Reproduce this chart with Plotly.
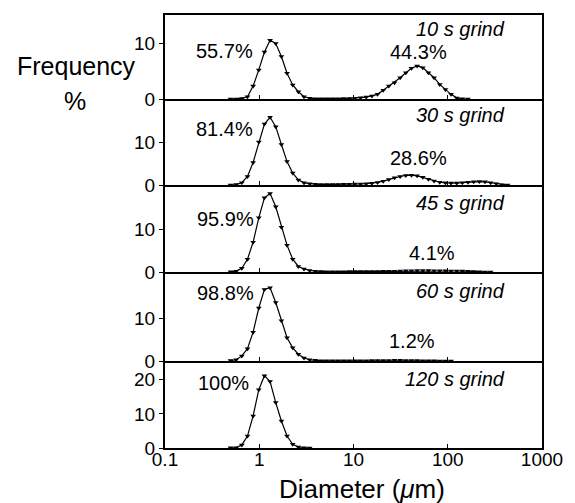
import plotly.graph_objects as go

# ---------------- data ----------------
# particle diameter bins (um), log-spaced
DIAMETER_UM = [0.4315, 0.4955, 0.5689, 0.6531, 0.7499, 0.8610, 0.9886, 1.135, 1.303, 1.496,
               1.718, 1.972, 2.265, 2.600, 2.985, 3.428, 3.936, 4.519, 5.188, 5.957,
               6.839, 7.852, 9.016, 10.35, 11.89, 13.65, 15.67, 17.99, 20.65, 23.71,
               27.23, 31.26, 35.89, 41.21, 47.32, 54.33, 62.37, 71.61, 82.22, 94.41,
               108.4, 124.5, 142.9, 164.1, 188.4, 216.3, 248.3, 285.1, 327.3, 375.8, 431.5]

FREQ_10S = [None, 0, 0.02, 0.1, 0.4, 2.3, 5.2, 8.4, 10.5, 9.9,
            7.6, 4.6, 2.5, 1.3, 0.4, 0.15, 0.05, 0.03, 0.03, 0.04,
            0.05, 0.07, 0.1, 0.15, 0.22, 0.35, 0.55, 0.83, 1.55, 2.3,
            2.9, 3.8, 4.7, 5.5, 5.9, 5.6, 4.7, 3.8, 2.6, 1.7,
            0.83, 0.2, 0.03, 0, None, None, None, None, None, None, None]

FREQ_30S = [None, 0, 0.1, 0.55, 2.0, 5.3, 10.1, 14.3, 15.9, 13.7,
            9.5, 5.5, 2.8, 1.2, 0.5, 0.3, 0.2, 0.1, 0.1, 0.12,
            0.14, 0.15, 0.18, 0.22, 0.25, 0.3, 0.4, 0.6, 0.9, 1.3,
            1.7, 2.0, 2.25, 2.3, 2.15, 1.8, 1.35, 0.95, 0.65, 0.5,
            0.45, 0.45, 0.55, 0.65, 0.75, 0.8, 0.75, 0.55, 0.3, 0.08, 0]

FREQ_45S = [None, 0.05, 0.2, 0.86, 3.0, 7.0, 12.7, 17.4, 18.4, 15.3,
            10.5, 6.3, 3.0, 1.3, 0.7, 0.35, 0.2, 0.1, 0.06, 0.06,
            0.07, 0.08, 0.09, 0.1, 0.1, 0.11, 0.12, 0.13, 0.15, 0.17,
            0.2, 0.24, 0.28, 0.32, 0.34, 0.35, 0.34, 0.32, 0.3, 0.28,
            0.26, 0.24, 0.22, 0.18, 0.12, 0.05, 0.02, 0, None, None, None]

FREQ_60S = [None, 0.1, 0.3, 1.2, 2.9, 6.8, 12.5, 16.9, 17.3, 13.8,
            9.5, 5.5, 3.1, 1.6, 0.7, 0.3, 0.15, 0.05, 0.04, 0.04,
            0.05, 0.05, 0.06, 0.06, 0.07, 0.08, 0.09, 0.1, 0.12, 0.14,
            0.15, 0.15, 0.14, 0.12, 0.1, 0.07, 0.05, 0.03, 0.02, 0.02,
            0, None, None, None, None, None, None, None, None, None, None]

FREQ_120S = [None, 0.05, 0.1, 0.9, 3.5, 9.4, 17.1, 21.2, 19.5, 13.3,
             7.9, 3.5, 1.1, 0.3, 0.1, 0, None, None, None, None,
             None, None, None, None, None, None, None, None, None, None,
             None, None, None, None, None, None, None, None, None, None,
             None, None, None, None, None, None, None, None, None, None, None]

SERIES = [FREQ_10S, FREQ_30S, FREQ_45S, FREQ_60S, FREQ_120S]
PANEL_NAMES = ["10 s grind", "30 s grind", "45 s grind", "60 s grind", "120 s grind"]
FINE_PCT = ["55.7%", "81.4%", "95.9%", "98.8%", "100%"]
COARSE_PCT = ["44.3%", "28.6%", "4.1%", "1.2%", None]
Y_MAX = [15, 20.2, 20.4, 21, 25.5]
Y_TICKS = [[0, 10], [0, 10], [0, 10], [0, 10], [0, 10, 20]]
X_TICKS = [0.1, 1, 10, 100, 1000]
X_TICKTEXT = ["0.1", "1", "10", "100", "1000"]

# ---------------- layout geometry (pixels) ----------------
W, H = 575, 503
L, R, T, B = 165, 25, 15, 55
PW, PH = W - L - R, H - T - B
BOUNDS = [15, 99, 185, 272, 361, 448]


def fx(p):
    return (p - L) / PW


def fy(p):
    return (H - B - p) / PH


FONT = "Liberation Sans, Arial, sans-serif"

fig = go.Figure()
layout = dict(
    width=W, height=H,
    margin=dict(l=L, r=R, t=T, b=B, pad=0),
    paper_bgcolor="white", plot_bgcolor="white",
    showlegend=False,
    font=dict(family=FONT, size=19, color="black"),
)

for k in range(5):
    n = k + 1
    fig.add_trace(go.Scatter(
        x=DIAMETER_UM, y=SERIES[k],
        xaxis=f"x{n}", yaxis=f"y{n}",
        mode="lines+markers",
        line=dict(color="black", width=1.2),
        marker=dict(symbol="triangle-down", size=5, color="black"),
        cliponaxis=True,
    ))
    layout[f"xaxis{n}"] = dict(
        type="log", range=[-1, 3], domain=[0, 1], anchor=f"y{n}",
        showline=True, linecolor="black", linewidth=2, mirror=(n == 1),
        ticks="inside", ticklen=4, tickwidth=1, tickcolor="black",
        tickvals=X_TICKS, ticktext=X_TICKTEXT,
        showticklabels=(n == 5), showgrid=False, zeroline=False,
        tickfont=dict(size=19, family=FONT),
        ticklabelstandoff=-7,
    )
    layout[f"yaxis{n}"] = dict(
        domain=[fy(BOUNDS[k + 1]), fy(BOUNDS[k])], anchor=f"x{n}",
        range=[0, Y_MAX[k]], tickvals=Y_TICKS[k],
        ticks="outside", ticklen=4, tickwidth=1, tickcolor="black",
        showline=True, linecolor="black", linewidth=2, mirror=True,
        showgrid=False, zeroline=False,
        tickfont=dict(size=19, family=FONT),
    )

fig.update_layout(**layout)

ann = []
NAME_Y = [28.8, 114.5, 203, 291, 378.8]
FINE_POS = [(226, 51), (226, 128.5), (227, 219.5), (227, 293), (225, 382.5)]
COARSE_POS = [(424, 52.5), (424, 157.5), (438, 252.5), (417, 340.5), None]
for k in range(5):
    ann.append(dict(text=f"<i>{PANEL_NAMES[k]}</i>", xref="paper", yref="paper",
                    x=fx(514), y=fy(NAME_Y[k]), xanchor="right", yanchor="middle",
                    showarrow=False, font=dict(size=20, family=FONT)))
    ann.append(dict(text=FINE_PCT[k], xref="paper", yref="paper",
                    x=fx(FINE_POS[k][0]), y=fy(FINE_POS[k][1]),
                    xanchor="center", yanchor="middle",
                    showarrow=False, font=dict(size=20, family=FONT)))
    if COARSE_PCT[k]:
        ann.append(dict(text=COARSE_PCT[k], xref="paper", yref="paper",
                        x=fx(COARSE_POS[k][0]), y=fy(COARSE_POS[k][1]),
                        xanchor="center", yanchor="middle",
                        showarrow=False, font=dict(size=20, family=FONT)))

ann.append(dict(text="Frequency", xref="paper", yref="paper", x=fx(74.5), y=fy(66),
                xanchor="center", yanchor="middle", showarrow=False,
                font=dict(size=25, family=FONT)))
ann.append(dict(text="%", xref="paper", yref="paper", x=fx(73), y=fy(101),
                xanchor="center", yanchor="middle", showarrow=False,
                font=dict(size=25, family=FONT)))
ann.append(dict(text="Diameter (<i>μ</i>m)", xref="paper", yref="paper", x=fx(366), y=fy(489),
                xanchor="center", yanchor="middle", showarrow=False,
                font=dict(size=26, family=FONT)))

fig.update_layout(annotations=ann)
fig.write_html("out.html")
